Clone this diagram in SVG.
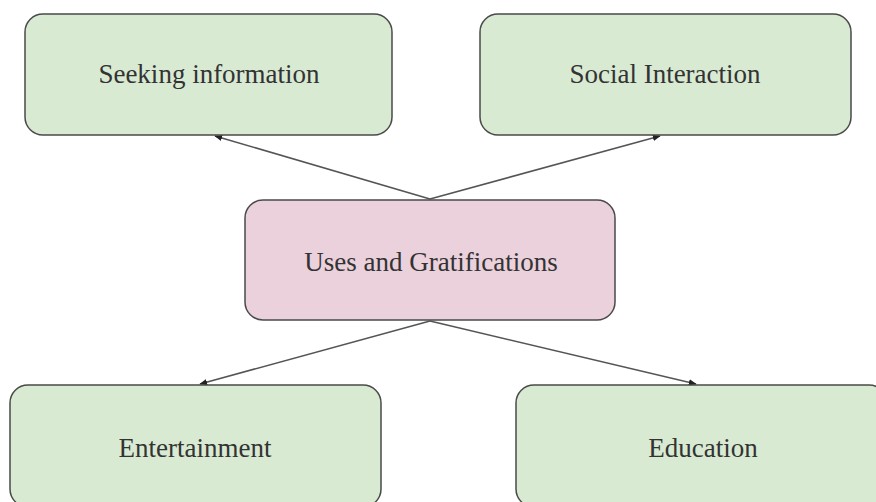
<svg xmlns="http://www.w3.org/2000/svg" width="876" height="502" viewBox="0 0 876 502">
  <style>
    .box { stroke: #4a4a4a; stroke-width: 1.5; }
    .leaf { fill: #d9ead3; }
    .hub { fill: #ead1dc; }
    .label { font-family: "Liberation Serif", "Times New Roman", serif; font-size: 27px; fill: #333; text-anchor: middle; }
    .edge { stroke: #555; stroke-width: 1.6; fill: none; marker-end: url(#arrow); }
  </style>
  <defs>
    <marker id="arrow" viewBox="0 0 10 10" refX="9" refY="5" markerWidth="5" markerHeight="5" orient="auto" markerUnits="strokeWidth">
      <path d="M0,1 L10,5 L0,9 z" fill="#222"/>
    </marker>
  </defs>
  <rect width="876" height="502" fill="#fff"/>

  <g id="connectors">
    <line class="edge" x1="430" y1="199" x2="215" y2="136"/>
    <line class="edge" x1="430" y1="199" x2="660" y2="136"/>
    <line class="edge" x1="430" y1="321" x2="200" y2="384"/>
    <line class="edge" x1="430" y1="321" x2="696" y2="384"/>
  </g>

  <g id="seeking-information">
    <rect class="box leaf" x="25" y="14" width="367" height="121" rx="18"/>
    <text class="label" x="209" y="83">Seeking information</text>
  </g>

  <g id="social-interaction">
    <rect class="box leaf" x="480" y="14" width="371" height="121" rx="18"/>
    <text class="label" x="665" y="83">Social Interaction</text>
  </g>

  <g id="uses-and-gratifications">
    <rect class="box hub" x="245" y="200" width="370" height="120" rx="18"/>
    <text class="label" x="431" y="271">Uses and Gratifications</text>
  </g>

  <g id="entertainment">
    <rect class="box leaf" x="10" y="385" width="371" height="122" rx="18"/>
    <text class="label" x="195" y="457">Entertainment</text>
  </g>

  <g id="education">
    <rect class="box leaf" x="516" y="385" width="371" height="122" rx="18"/>
    <text class="label" x="703" y="457">Education</text>
  </g>
</svg>
